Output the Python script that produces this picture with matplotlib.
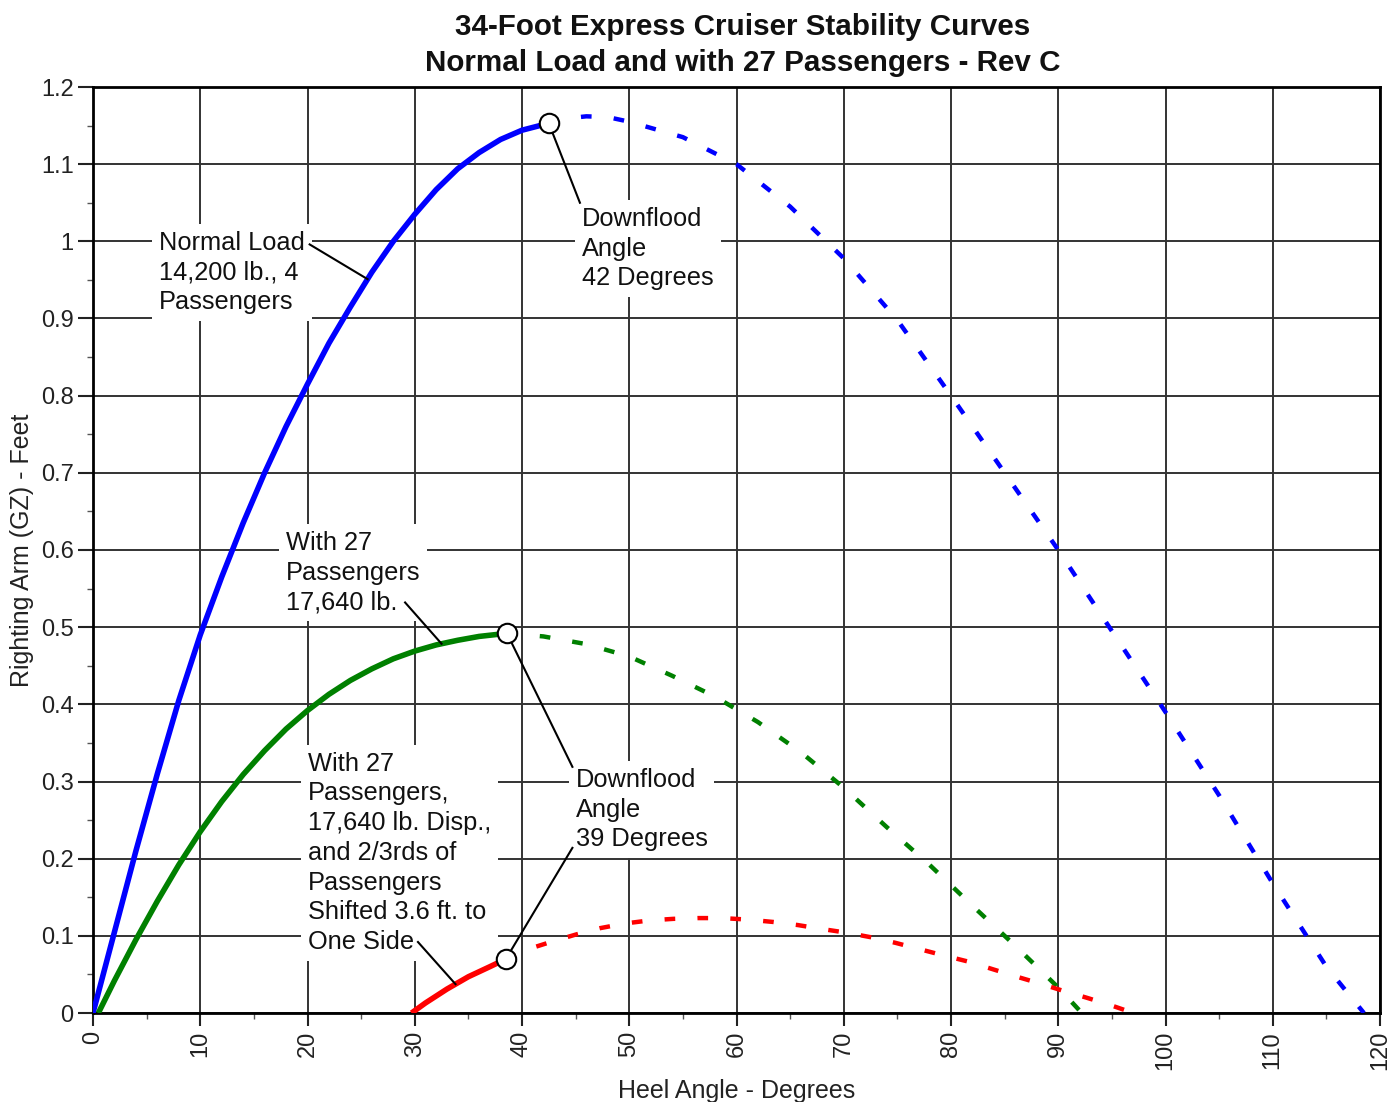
import matplotlib
matplotlib.use("Agg")
import matplotlib.pyplot as plt
import numpy as np
from matplotlib.ticker import MultipleLocator, FuncFormatter

plt.rcParams['font.family'] = ['Liberation Sans', 'DejaVu Sans']

# ---- data ----
blue_solid_x = [0, 2, 4, 6, 8, 10, 12, 14, 16, 18, 20, 22, 24, 26, 28, 30, 32, 34, 36, 38, 40, 42.5]
blue_solid_y = [0, 0.105, 0.21, 0.31, 0.405, 0.49, 0.565, 0.635, 0.70, 0.76, 0.815, 0.868, 0.915,
                0.96, 1.0, 1.035, 1.067, 1.094, 1.115, 1.132, 1.144, 1.153]
blue_dash_x = [42.5, 44, 46, 48, 50, 55, 60, 65, 70, 75, 80, 85, 90, 95, 100, 105, 110, 115, 118.5]
blue_dash_y = [1.153, 1.159, 1.162, 1.161, 1.155, 1.135, 1.10, 1.045, 0.978, 0.898, 0.80, 0.70,
               0.60, 0.495, 0.39, 0.282, 0.168, 0.06, 0.0]

green_solid_x = [0.5, 2, 4, 6, 8, 10, 12, 14, 16, 18, 20, 22, 24, 26, 28, 30, 32, 34, 36, 38.6]
green_solid_y = [0, 0.042, 0.095, 0.145, 0.192, 0.235, 0.274, 0.309, 0.34, 0.368, 0.392, 0.413,
                 0.431, 0.446, 0.459, 0.469, 0.477, 0.483, 0.488, 0.492]
green_dash_x = [38.6, 42, 46, 50, 54, 58, 62, 66, 70, 74, 78, 82, 86, 90, 92.2]
green_dash_y = [0.492, 0.488, 0.478, 0.462, 0.437, 0.41, 0.377, 0.338, 0.292, 0.241, 0.192,
                0.139, 0.087, 0.033, 0.0]

red_solid_x = [29.7, 31, 33, 35, 37, 38.5]
red_solid_y = [0, 0.013, 0.031, 0.047, 0.06, 0.070]
red_dash_x = [38.5, 40.4, 42.9, 45.1, 47.3, 49.6, 51.9, 54.1, 56.4, 58.7, 61.1, 63.4, 65.7, 67.9,
              70.3, 72.6, 74.8, 77.0, 79.2, 81.5, 83.6, 85.9, 88.1, 90.4, 92.6, 94.7, 97.0]
red_dash_y = [0.070, 0.082, 0.093, 0.102, 0.110, 0.116, 0.120, 0.122, 0.123, 0.123, 0.121, 0.118,
              0.114, 0.109, 0.104, 0.098, 0.091, 0.083, 0.075, 0.067, 0.058, 0.048, 0.039, 0.029,
              0.020, 0.011, 0.0]

x_ticks = list(range(0, 121, 10))
y_ticks = [0, 0.1, 0.2, 0.3, 0.4, 0.5, 0.6, 0.7, 0.8, 0.9, 1.0, 1.1, 1.2]

title = "34-Foot Express Cruiser Stability Curves\nNormal Load and with 27 Passengers - Rev C"
xlabel = "Heel Angle - Degrees"
ylabel = "Righting Arm (GZ) - Feet"

txt_normal = "Normal Load\n14,200 lb., 4\nPassengers"
txt_df42 = "Downflood\nAngle\n42 Degrees"
txt_27 = "With 27\nPassengers\n17,640 lb."
txt_shift = ("With 27\nPassengers,\n17,640 lb. Disp.,\nand 2/3rds of\nPassengers\n"
             "Shifted 3.6 ft. to\nOne Side")
txt_df39 = "Downflood\nAngle\n39 Degrees"

# ---- figure ----
W, H = 1392, 1102
fig = plt.figure(figsize=(W / 100, H / 100), dpi=100)
fig.patch.set_facecolor('white')
ax = fig.add_axes([93 / W, 1 - 1013 / H, (1380 - 93) / W, (1013 - 87) / H])

ax.set_xlim(0, 120)
ax.set_ylim(0, 1.2)
ax.set_xticks(x_ticks)
ax.set_yticks(y_ticks)
ax.xaxis.set_minor_locator(MultipleLocator(5))
ax.yaxis.set_minor_locator(MultipleLocator(0.05))
ax.yaxis.set_major_formatter(FuncFormatter(lambda v, p: "%g" % round(v, 2)))
ax.tick_params(axis='x', which='major', labelsize=17, rotation=90, length=9, width=1.5,
               direction='out', pad=4, colors='#222222')
ax.tick_params(axis='y', which='major', labelsize=17, length=11, width=1.5,
               direction='out', pad=3, colors='#222222')
ax.tick_params(which='minor', length=4, width=1.0, direction='out', color='#555555')
ax.set_axisbelow(True)
ax.grid(True, which='major', color='#333333', linewidth=1.4)
for s in ax.spines.values():
    s.set_linewidth(2.0)
    s.set_color('black')

lw_solid = 4.0
lw_dash = 3.2
dash = (0, (2.4, 5.0))

ax.plot(blue_solid_x, blue_solid_y, color='#0000ff', lw=lw_solid, zorder=4, solid_capstyle='butt')
ax.plot(blue_dash_x, blue_dash_y, color='#0000ff', lw=lw_dash, ls=dash, zorder=4)
ax.plot(green_solid_x, green_solid_y, color='#008000', lw=lw_solid, zorder=4, solid_capstyle='butt')
ax.plot(green_dash_x, green_dash_y, color='#008000', lw=lw_dash, ls=dash, zorder=4)
ax.plot(red_solid_x, red_solid_y, color='#ff0000', lw=lw_solid, zorder=4, solid_capstyle='butt')
ax.plot(red_dash_x, red_dash_y, color='#ff0000', lw=lw_dash, ls=dash, zorder=4)

# downflood markers
for xs, ys in [(blue_solid_x, blue_solid_y), (green_solid_x, green_solid_y), (red_solid_x, red_solid_y)]:
    ax.plot([xs[-1]], [ys[-1]], marker='o', ms=14, mfc='white', mec='black', mew=1.5,
            ls='none', zorder=6)

# annotation texts
tkw = dict(fontsize=18.3, color='#111111', ha='left', va='top', linespacing=1.3, zorder=3,
           bbox=dict(facecolor='white', edgecolor='none', pad=5))
ax.text(6.15, 1.0135, txt_normal, **tkw)
ax.text(45.6, 1.0445, txt_df42, **tkw)
ax.text(18.0, 0.6245, txt_27, **tkw)
ax.text(20.05, 0.3385, txt_shift, **tkw)
ax.text(45.0, 0.3175, txt_df39, **tkw)

# leader lines
lkw = dict(color='black', lw=1.5, zorder=5)
ax.plot([20.2, 25.6], [0.996, np.interp(25.6, blue_solid_x, blue_solid_y)], **lkw)
ax.plot([blue_solid_x[-1], 45.4], [blue_solid_y[-1], 1.05], **lkw)
ax.plot([29.1, 32.5], [0.532, np.interp(32.5, green_solid_x, green_solid_y)], **lkw)
ax.plot([30.3, 33.8], [0.092, np.interp(33.8, red_solid_x, red_solid_y)], **lkw)
ax.plot([green_solid_x[-1], 44.7], [green_solid_y[-1], 0.319], **lkw)
ax.plot([red_solid_x[-1], 44.7], [red_solid_y[-1], 0.214], **lkw)

ax.set_xlabel(xlabel, fontsize=18, color='#222222', labelpad=6)
ax.set_ylabel(ylabel, fontsize=18, color='#222222', labelpad=5)
fig.text(743 / W, 1 - 45 / H, title, ha='center', va='center', fontsize=21.3,
         fontweight='bold', color='#111111', linespacing=1.4)

fig.savefig('out.png', dpi=100, facecolor='white')
